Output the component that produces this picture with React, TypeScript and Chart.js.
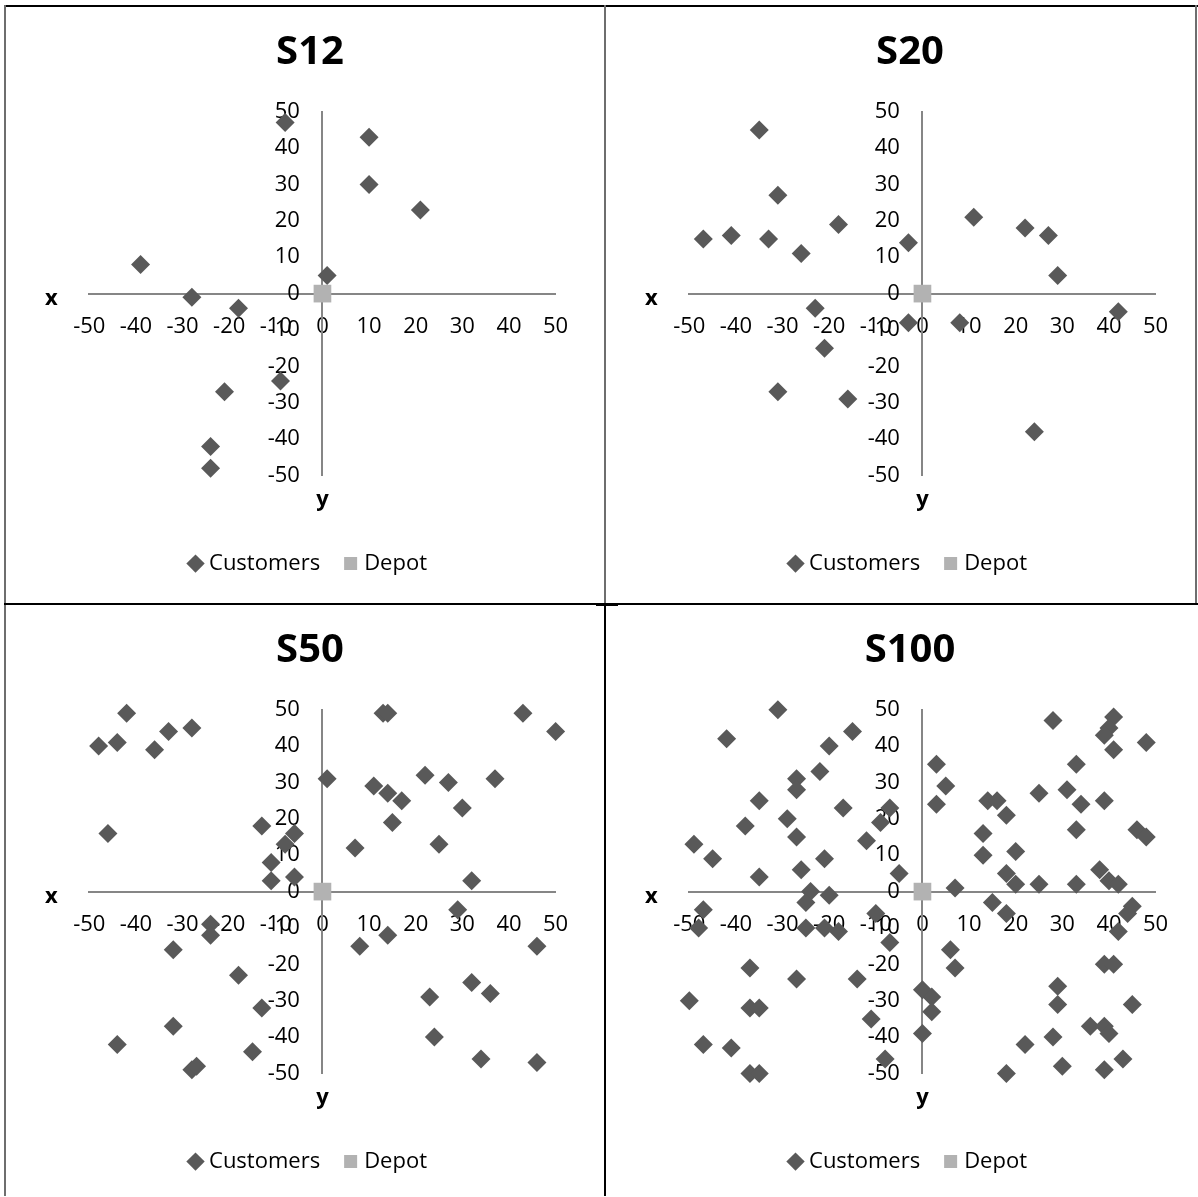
import React, { useEffect, useRef } from 'react';
import { Chart, registerables } from 'chart.js';

Chart.register(...registerables);

// ---------------- data ----------------
const panelTitles = ['S12', 'S20', 'S50', 'S100'];
const legendLabels = ['Customers', 'Depot'];
const axisTitles = ['x', 'y'];
const axisMin = -50;
const axisMax = 50;
const axisStep = 10;

const depotX = [0];
const depotY = [0];

const s12X = [-8, 10, 10, 21, -39, 1, -28, -18, -9, -21, -24, -24];
const s12Y = [47, 43, 30, 23, 8, 5, -1, -4, -24, -27, -42, -48];

const s20X = [-35, -31, -47, -41, -33, -26, -18, -3, 11, 22, 27, 29, -23, -3, 8, 42, -21, -31, -16, 24];
const s20Y = [45, 27, 15, 16, 15, 11, 19, 14, 21, 18, 16, 5, -4, -8, -8, -5, -15, -27, -29, -38];

const s50X = [
  -42, -48, -44, -36, -33, -28, -46,
  -13, -6, -8, -11, -11, -6,
  1, 13, 14, 43, 50, 11, 14, 17, 22, 27, 37, 30, 15, 7, 25, 32,
  29, 8, 14, 46, 32, 36, 23, 24, 34, 46,
  -24, -24, -32, -18, -13, -32, -44, -15, -28, -27,
];
const s50Y = [
  49, 40, 41, 39, 44, 45, 16,
  18, 16, 13, 8, 3, 4,
  31, 49, 49, 49, 44, 29, 27, 25, 32, 30, 31, 23, 19, 12, 13, 3,
  -5, -15, -12, -15, -25, -28, -29, -40, -46, -47,
  -9, -12, -16, -23, -32, -37, -42, -44, -49, -48,
];

const s100X = [
  -31, -42, -15, -20, -22, -27, -27, -35, -17, -7, -29, -38, -9, -27, -49, -12, -45, -21, -35, -26, -5, -24, -20,
  28, 41, 40, 39, 41, 48, 3, 33, 5, 3, 25, 31, 34, 39, 14, 16, 18, 13, 33, 46, 48, 13, 20, 18, 20, 25, 33, 38, 40, 42, 7,
  -25, -47, -48, -25, -21, -18, -10, -7, -37, -27, -14, -50, -37, -35, -11, -47, -41, -8, -37, -35,
  15, 18, 45, 44, 42, 6, 7, 0, 2, 2, 0, 29, 29, 39, 41, 45, 36, 39, 40, 28, 22, 30, 39, 43, 18,
];
const s100Y = [
  50, 42, 44, 40, 33, 31, 28, 25, 23, 23, 20, 18, 19, 15, 13, 14, 9, 9, 4, 6, 5, 0, -1,
  47, 48, 45, 43, 39, 41, 35, 35, 29, 24, 27, 28, 24, 25, 25, 25, 21, 16, 17, 17, 15, 10, 11, 5, 2, 2, 2, 6, 3, 2, 1,
  -3, -5, -10, -10, -10, -11, -6, -14, -21, -24, -24, -30, -32, -32, -35, -42, -43, -46, -50, -50,
  -3, -6, -4, -6, -11, -16, -21, -27, -29, -33, -39, -26, -31, -20, -20, -31, -37, -37, -39, -40, -42, -48, -49, -46, -50,
];

const panelXs = [s12X, s20X, s50X, s100X];
const panelYs = [s12Y, s20Y, s50Y, s100Y];

// ---------------- styling ----------------
const FONT = '"Open Sans", "DejaVu Sans", sans-serif';
const CUSTOMER_COLOR = '#595959';
const DEPOT_COLOR = '#b2b2b2';
const AXIS_COLOR = '#868686';
const CANVAS_W = 590;
const CANVAS_H = 590;
const CELLS = [
  { left: 5, top: 5 },
  { left: 605, top: 5 },
  { left: 5, top: 603 },
  { left: 605, top: 603 },
];

function Panel(props: { idx: number }) {
  const { idx } = props;
  const ref = useRef<HTMLCanvasElement | null>(null);

  useEffect(() => {
    const canvas = ref.current;
    if (!canvas) return;
    const xs = panelXs[idx];
    const ys = panelYs[idx];
    const customers = xs.map((x, i) => ({ x, y: ys[i] }));
    const depot = depotX.map((x, i) => ({ x, y: depotY[i] }));

    const axisTitlePlugin = {
      id: 'axisTitlesXY',
      afterDraw(chart: any) {
        const { ctx, chartArea, scales } = chart;
        const zeroY = scales.y.getPixelForValue(0);
        const zeroX = scales.x.getPixelForValue(0);
        ctx.save();
        ctx.font = 'bold 22px ' + FONT;
        ctx.fillStyle = '#000000';
        ctx.textAlign = 'center';
        ctx.textBaseline = 'alphabetic';
        ctx.fillText(axisTitles[0], chartArea.left - 38, zeroY + 11);
        ctx.fillText(axisTitles[1], zeroX, chartArea.bottom + 30);
        ctx.restore();
      },
    };

    const tickFont = { family: FONT, size: 22 };
    const hidden = (extra: any) => ({
      type: 'linear',
      display: true,
      min: 0,
      max: 1,
      ticks: { display: false },
      grid: { display: false, drawTicks: false },
      border: { display: false },
      ...extra,
    });

    const chart = new Chart(canvas, {
      type: 'scatter',
      data: {
        datasets: [
          {
            label: legendLabels[0],
            data: customers,
            xAxisID: 'x',
            yAxisID: 'y',
            pointStyle: 'rectRot',
            pointRadius: 9.5,
            pointHoverRadius: 9.5,
            pointBorderWidth: 0,
            backgroundColor: CUSTOMER_COLOR,
            pointBackgroundColor: CUSTOMER_COLOR,
            borderColor: CUSTOMER_COLOR,
            pointBorderColor: CUSTOMER_COLOR,
            order: 1,
            clip: false,
          } as any,
          {
            label: legendLabels[1],
            data: depot,
            xAxisID: 'x',
            yAxisID: 'y',
            pointStyle: 'rect',
            pointRadius: 12.5,
            pointHoverRadius: 12.5,
            pointBorderWidth: 0,
            backgroundColor: DEPOT_COLOR,
            pointBackgroundColor: DEPOT_COLOR,
            borderColor: DEPOT_COLOR,
            pointBorderColor: DEPOT_COLOR,
            order: 0,
            clip: false,
          } as any,
        ],
      },
      options: {
        animation: false,
        responsive: false,
        events: [],
        layout: { padding: { left: 20, right: 0, top: 0, bottom: 10.4 } },
        plugins: {
          title: {
            display: true,
            text: panelTitles[idx],
            color: '#000000',
            font: { family: FONT, size: 40, weight: 'bold' },
            padding: { top: 23.3, bottom: 35.4 },
          },
          legend: {
            display: true,
            position: 'bottom',
            labels: {
              usePointStyle: true,
              boxWidth: 5,
              boxHeight: 13,
              padding: 28,
              color: '#000000',
              font: { family: FONT, size: 22 },
              sort: (a: any, b: any) => a.datasetIndex - b.datasetIndex,
            },
          },
          tooltip: { enabled: false },
        },
        scales: {
          x: {
            type: 'linear',
            position: 'center',
            min: axisMin,
            max: axisMax,
            ticks: {
              stepSize: axisStep,
              autoSkip: false,
              maxRotation: 0,
              padding: 19.5,
              color: '#000000',
              font: tickFont,
            },
            grid: { display: false, drawTicks: false },
            border: { display: true, color: AXIS_COLOR, width: 2 },
          },
          y: {
            type: 'linear',
            position: 'center',
            min: axisMin,
            max: axisMax,
            ticks: {
              stepSize: axisStep,
              autoSkip: false,
              padding: 22.5,
              color: '#000000',
              font: tickFont,
            },
            grid: { display: false, drawTicks: false },
            border: { display: true, color: AXIS_COLOR, width: 2 },
          },
          padLeft: hidden({ axis: 'y', position: 'left', afterFit: (s: any) => { s.width = 64.3; } }),
          padRight: hidden({ axis: 'y', position: 'right', afterFit: (s: any) => { s.width = 39.4; } }),
          padBottom: hidden({ axis: 'x', position: 'bottom', afterFit: (s: any) => { s.height = 49.1; } }),
        } as any,
      },
      plugins: [axisTitlePlugin],
    } as any);

    return () => {
      chart.destroy();
    };
  }, [idx]);

  const cell = CELLS[idx];
  return (
    <canvas
      ref={ref}
      width={CANVAS_W}
      height={CANVAS_H}
      style={{
        position: 'absolute',
        left: cell.left,
        top: cell.top,
        width: CANVAS_W,
        height: CANVAS_H,
      }}
    />
  );
}

function Line(props: { left: number; top: number; width: number; height: number; color: string }) {
  const { left, top, width, height, color } = props;
  return (
    <div style={{ position: 'absolute', left, top, width, height, background: color }} />
  );
}

export default function App() {
  return (
    <div
      style={{
        position: 'absolute',
        left: 0,
        top: 0,
        width: 1198,
        height: 1196,
        background: '#ffffff',
        overflow: 'hidden',
      }}
    >
      {[0, 1, 2, 3].map((i) => (
        <Panel key={i} idx={i} />
      ))}
      {/* table borders */}
      <Line left={4} top={5} width={1194} height={2} color="#000000" />
      <Line left={4} top={5} width={2} height={1191} color="#6e6e6e" />
      <Line left={604} top={5} width={2} height={598} color="#6e6e6e" />
      <Line left={604} top={603} width={2} height={593} color="#000000" />
      <Line left={4} top={603} width={1194} height={2} color="#000000" />
      <Line left={596} top={603} width={22} height={3} color="#000000" />
      <Line left={1195} top={5} width={2} height={598} color="#6e6e6e" />
    </div>
  );
}
